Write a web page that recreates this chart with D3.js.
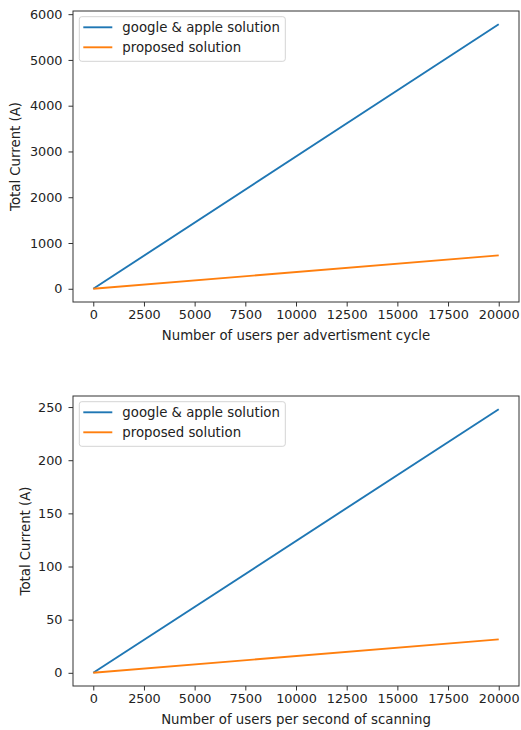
<!DOCTYPE html>
<html>
<head>
<meta charset="utf-8">
<script src="https://cdn.jsdelivr.net/npm/d3@7"></script>
<style>
  body { margin: 0; background: #fff; }
  svg text { font-family: "DejaVu Sans", sans-serif; fill: #222; }
</style>
</head>
<body>
<svg id="chart" width="521" height="730"></svg>
<script>
// Users on the x axis, total current on the y axis (two panels).
const users = [0, 20000];
const advGoogle = [0, 5780];
const advProposed = [0, 730];
const scanGoogle = [0, 248];
const scanProposed = [0, 31.5];

const xTicks = [0, 2500, 5000, 7500, 10000, 12500, 15000, 17500, 20000];
const advYTicks = [0, 1000, 2000, 3000, 4000, 5000, 6000];
const scanYTicks = [0, 50, 100, 150, 200, 250];

const seriesNames = ["google & apple solution", "proposed solution"];
const COLORS = ["#1f77b4", "#ff7f0e"];

const svg = d3.select("#chart");
const TICK_FONT = 12.8;
const LABEL_FONT = 13.3;

// matplotlib-style 5% margins
function padded(lo, hi) {
  const r = hi - lo;
  return [lo - 0.05 * r, hi + 0.05 * r];
}

function drawPanel(p) {
  const g = svg.append("g");
  const x = d3.scaleLinear().domain(padded(0, 20000)).range([p.left, p.right]);
  const allY = p.series.flat();
  const y = d3.scaleLinear().domain(padded(d3.min(allY), d3.max(allY))).range([p.bottom, p.top]);

  // lines
  const line = d3.line().x((d, i) => x(users[i])).y(d => y(d));
  p.series.forEach((s, i) => {
    g.append("path")
      .attr("d", line(s))
      .attr("fill", "none")
      .attr("stroke", COLORS[i])
      .attr("stroke-width", 1.9);
  });

  // axes
  const xAxis = g.append("g")
    .attr("transform", `translate(0,${p.bottom})`)
    .call(d3.axisBottom(x).tickValues(xTicks).tickFormat(d3.format("d")).tickSizeOuter(0).tickSize(4.5).tickPadding(3.5));
  const yAxis = g.append("g")
    .attr("transform", `translate(${p.left},0)`)
    .call(d3.axisLeft(y).tickValues(p.yTicks).tickFormat(d3.format("d")).tickSizeOuter(0).tickSize(4.5).tickPadding(6));
  [xAxis, yAxis].forEach(a => {
    a.select(".domain").remove();
    a.selectAll(".tick line").attr("stroke", "#333").attr("stroke-width", 1);
    a.selectAll(".tick text").attr("font-size", TICK_FONT).attr("fill", "#222")
      .attr("font-family", "DejaVu Sans, sans-serif");
  });

  // frame
  g.append("rect")
    .attr("x", p.left).attr("y", p.top)
    .attr("width", p.right - p.left).attr("height", p.bottom - p.top)
    .attr("fill", "none").attr("stroke", "#333").attr("stroke-width", 1);

  // axis labels
  g.append("text")
    .attr("x", (p.left + p.right) / 2).attr("y", p.bottom + 33.5)
    .attr("text-anchor", "middle").attr("dy", "0.35em").attr("font-size", LABEL_FONT)
    .text(p.xLabel);
  g.append("text")
    .attr("transform", `translate(${p.yLabelX},${(p.top + p.bottom) / 2}) rotate(-90)`)
    .attr("text-anchor", "middle").attr("dy", "0.35em").attr("font-size", LABEL_FONT)
    .text("Total Current (A)");

  // legend
  const lg = g.append("g").attr("transform", `translate(${p.left + 6.3},${p.top + 5.7})`);
  lg.append("rect")
    .attr("width", 206).attr("height", 44.6).attr("rx", 2.5)
    .attr("fill", "#fff").attr("fill-opacity", 0.8)
    .attr("stroke", "#d4d4d4").attr("stroke-width", 1);
  seriesNames.forEach((name, i) => {
    const yy = 10.6 + i * 20;
    lg.append("line")
      .attr("x1", 4).attr("x2", 33).attr("y1", yy).attr("y2", yy)
      .attr("stroke", COLORS[i]).attr("stroke-width", 1.9);
    lg.append("text")
      .attr("x", 43).attr("y", yy).attr("dy", "0.35em")
      .attr("font-size", LABEL_FONT).text(name);
  });
}

drawPanel({
  left: 73, right: 519, top: 11, bottom: 302,
  series: [advGoogle, advProposed], yTicks: advYTicks,
  xLabel: "Number of users per advertisment cycle", yLabelX: 15
});
drawPanel({
  left: 73, right: 519, top: 396, bottom: 686,
  series: [scanGoogle, scanProposed], yTicks: scanYTicks,
  xLabel: "Number of users per second of scanning", yLabelX: 25
});
</script>
</body>
</html>
